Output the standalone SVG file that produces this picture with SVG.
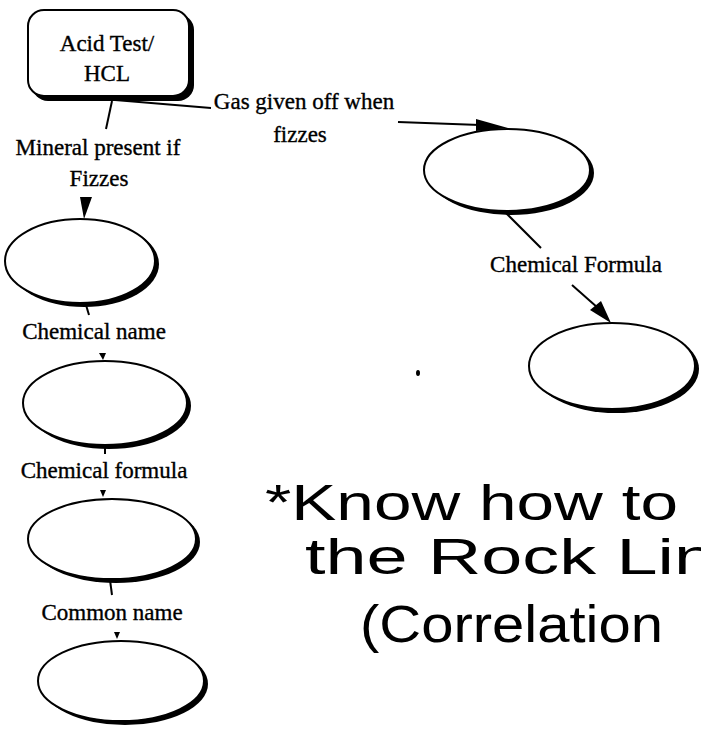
<svg xmlns="http://www.w3.org/2000/svg" width="701" height="729" viewBox="0 0 701 729">
<style>
.lbl{font-family:"Liberation Serif","Times New Roman",serif;font-size:23px;fill:#000;stroke:#000;stroke-width:0.35;text-anchor:middle}
.hand{font-family:"Liberation Sans",Arial,sans-serif;fill:#000}
.ol{fill:#fff;stroke:#000;stroke-width:2}
.sh{fill:#000}
.con{stroke:#000;stroke-width:2;fill:none}
.ah{fill:#000}
</style>
<rect width="701" height="729" fill="#fff"/>
<g id="acid-test">
<rect class="sh" x="32" y="14" width="162" height="87" rx="16"/>
<rect class="ol" x="28" y="10" width="161" height="86" rx="16"/>
<text class="lbl" x="107" y="51">Acid Test/</text>
<text class="lbl" x="107" y="81">HCL</text>
</g>
<g id="ellipse-mineral">
<ellipse class="sh" cx="84" cy="264" rx="75" ry="43"/>
<ellipse class="ol" cx="80" cy="261" rx="75" ry="42"/>
</g>
<g id="ellipse-chemname">
<ellipse class="sh" cx="109" cy="406" rx="82" ry="43"/>
<ellipse class="ol" cx="105" cy="403" rx="82" ry="42"/>
</g>
<g id="ellipse-chemformula">
<ellipse class="sh" cx="116" cy="542" rx="84" ry="41"/>
<ellipse class="ol" cx="112" cy="539" rx="84" ry="40"/>
</g>
<g id="ellipse-common">
<ellipse class="sh" cx="125" cy="684" rx="83" ry="41"/>
<ellipse class="ol" cx="121" cy="681" rx="83" ry="40"/>
</g>
<g id="ellipse-gas">
<ellipse class="sh" cx="511" cy="173" rx="83" ry="42"/>
<ellipse class="ol" cx="507" cy="170" rx="83" ry="41"/>
</g>
<g id="ellipse-gasformula">
<ellipse class="sh" cx="616" cy="369" rx="83" ry="44"/>
<ellipse class="ol" cx="612" cy="366" rx="83" ry="43"/>
</g>
<g id="connectors">
<line class="con" x1="115" y1="100" x2="211" y2="108"/>
<line class="con" x1="112" y1="101" x2="106" y2="129"/>
<line class="con" x1="398" y1="122" x2="480" y2="125"/>
<polygon class="ah" points="476,119 508,128 476,131"/>
<polygon class="ah" points="80,197 92,197 84,219"/>
<line class="con" x1="86" y1="305" x2="89" y2="315"/>
<polygon class="ah" points="99,353 106,353 103,360"/>
<line class="con" x1="105" y1="446" x2="105" y2="454"/>
<polygon class="ah" points="100,490 106,490 103,497"/>
<line class="con" x1="110" y1="580" x2="112" y2="595"/>
<polygon class="ah" points="114,632 120,632 117,639"/>
<line class="con" x1="505" y1="212" x2="541" y2="248"/>
<line class="con" x1="572" y1="285" x2="598" y2="308"/>
<polygon class="ah" points="590,310 601,301 611,323"/>
</g>
<g id="labels">
<text class="lbl" x="304" y="109">Gas given off when</text>
<text class="lbl" x="300" y="142">fizzes</text>
<text class="lbl" x="98" y="155">Mineral present if</text>
<text class="lbl" x="99" y="186">Fizzes</text>
<text class="lbl" x="94" y="339">Chemical name</text>
<text class="lbl" x="104" y="478">Chemical formula</text>
<text class="lbl" x="112" y="620">Common name</text>
<text class="lbl" x="576" y="272">Chemical Formula</text>
</g>
<g id="note">
<text class="hand" x="265" y="520" font-size="50" textLength="413" lengthAdjust="spacingAndGlyphs">*Know how to</text>
<text class="hand" x="305" y="574" font-size="50" textLength="410" lengthAdjust="spacingAndGlyphs">the Rock Lin</text>
<text class="hand" x="360" y="642" font-size="52" textLength="303" lengthAdjust="spacingAndGlyphs">(Correlation</text>
</g>
<ellipse cx="418" cy="373" rx="2" ry="3" fill="#000"/>
</svg>
